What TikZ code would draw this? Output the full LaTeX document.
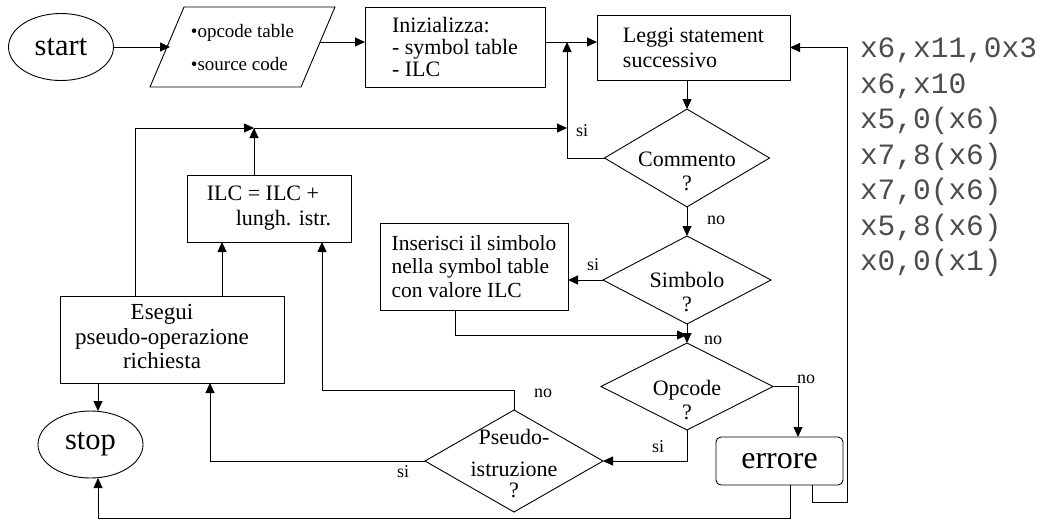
\documentclass[tikz,border=0pt]{standalone}
\usepackage{fontspec}
\setmainfont{Liberation Serif}
\newfontfamily\monofont{Liberation Mono}
\usetikzlibrary{shapes.geometric,arrows.meta}
\newcommand{\fs}[2]{\fontsize{#1}{#2}\selectfont}
\newcommand{\dtext}[2]{\raisebox{#1}[0pt][0pt]{\begin{tabular}[t]{@{}c@{}}#2\end{tabular}}}
\begin{document}
\begin{tikzpicture}[x=1pt,y=-1pt,
  every node/.style={inner sep=0pt, outer sep=0pt},
  box/.style={draw, rectangle, line width=0.9pt, font=\fs{22}{22}},
  term/.style={draw, ellipse, line width=0.9pt, font=\fs{30.5}{32}},
  dia/.style={draw, diamond, line width=0.9pt, font=\fs{22}{24}},
  lbl/.style={font=\fs{18}{18}},
  conn/.style={line width=0.9pt},
  arr/.style={conn, -{Triangle[length=10pt,width=9pt]}},
]
\useasboundingbox (0,0) rectangle (1040,523);

% nodes
\node[term, minimum width=105, minimum height=67] (start) at (61,47) {start};
\node[minimum width=185, minimum height=80, align=left, font=\fs{19}{33}] (in) at (242.5,47) {•opcode table\\•source code};
\draw[line width=0.9pt] (in.south west) -- ([xshift=34pt]in.north west) -- (in.north east)
  -- ([xshift=-34pt]in.south east) -- cycle;
\node[box, minimum width=180, minimum height=80, align=left] (init) at (455,47) {Inizializza:\\- symbol table\\- ILC};
\node[box, minimum width=193, minimum height=65, align=left, font=\fs{22}{25}] (leggi) at (693.5,47.5) {Leggi statement\\successivo};
\node[dia, minimum width=165, minimum height=87] (comm) at (687,158) {\dtext{-8pt}{Commento\\?}};
\node[dia, minimum width=168, minimum height=88] (simb) at (687,280) {\dtext{-7pt}{Simbolo\\?}};
\node[box, minimum width=188, minimum height=87, align=left, font=\fs{21.5}{23.5}] (ins) at (474,266.5) {Inserisci il simbolo\\nella symbol table\\con valore ILC};
\node[dia, minimum width=172, minimum height=87] (opc) at (687,386.5) {\dtext{-8.5pt}{Opcode\\?}};
\node[box, rounded corners=5pt, minimum width=127, minimum height=48, font=\fs{32}{32}] (err) at (779.5,461) {errore};
\node[dia, minimum width=178, minimum height=102, font=\fs{22}{25}] (pseudo) at (514,461) {\dtext{17pt}{Pseudo-\\[7pt]istruzione\\[-4pt]?}};
\node[box, minimum width=164, minimum height=67, align=left, font=\fs{22}{25}] (ilc) at (269,208.5) {ILC = ILC +\\\hspace*{29pt}lungh. istr.};
\node[box, minimum width=224, minimum height=87, font=\fs{23}{24.5}] (eseg) at (172,339.5) {\begin{tabular}{@{}c@{}}Esegui\\pseudo-operazione\\richiesta\end{tabular}\hspace*{20pt}};
\node[term, minimum width=105, minimum height=67] (stop) at (90.5,444.5) {stop};
\node[anchor=north west, font=\monofont\fs{29.5}{35.5}, text=black!70, align=left] (code) at (860,38)
  {x6,x11,0x3\\x6,x10\\x5,0(x6)\\x7,8(x6)\\x7,0(x6)\\x5,8(x6)\\x0,0(x1)};

% junctions and helper coordinates
\coordinate (j1) at (567,42);
\coordinate (j2) at (254,128);
\coordinate (j3) at (567,128);
\coordinate (m) at (687,335);
\coordinate (x98) at (98,0);
\coordinate (x135) at (135,0);
\coordinate (x210) at (210,0);
\coordinate (x222) at (222,0);
\coordinate (x322) at (322,0);
\coordinate (x455) at (455,0);
\coordinate (x790) at (790,0);
\coordinate (x798) at (798,0);
\coordinate (x812) at (812,0);

% connectors
\draw[arr] (start.east) -- ([xshift=20pt]in.west);
\draw[arr] ([shift={(-15pt,5pt)}]in.east) -- ([yshift=5pt]init.west);
\draw[arr] ([yshift=5pt]init.east) -- ([yshift=5pt]init.east -| leggi.west);
\draw[arr] (leggi.south -| comm) -- (comm.north);
\draw[arr] (comm.west) -| (j1);
\draw[arr] (eseg.north -| x135) |- (j2);
\draw[arr] (ilc.north -| j2) -- (j2);
\draw[arr] (j2) -- (j3);
\draw[arr] (eseg.north -| x222) -- (ilc.south -| x222);
\draw[arr] (comm.south) -- (simb.north);
\draw[arr] (simb.west) -- (simb.west -| ins.east);
\draw[arr] (ins.south -| x455) |- (m);
\draw[arr] (simb.south) -- (opc.north);
\draw[arr] (opc.east) -| (err.north -| x798);
\draw[arr] (opc.south) |- (pseudo.east);
\draw[arr] (pseudo.west) -| (eseg.south -| x210);
\draw[arr] (pseudo.north) -- ++(0,-20) -| (ilc.south -| x322);
\draw[arr] (eseg.south -| x98) -- (stop.north -| x98);
\draw[arr] (err.south -| x790) -- ++(0,33) -| (stop.south -| x98);
\draw[arr] (err.south -| x812) -- ++(0,17) -| ([xshift=57pt]leggi.east) -- (leggi.east);

% labels
\node[lbl] (l1) at (582,131) {si};
\node[lbl] (l2) at (716,220) {no};
\node[lbl] (l3) at (593,265) {si};
\node[lbl] (l4) at (713,340) {no};
\node[lbl] (l5) at (806,379) {no};
\node[lbl] (l6) at (658,447) {si};
\node[lbl] (l7) at (543,393) {no};
\node[lbl] (l8) at (403,472) {si};
\end{tikzpicture}
\end{document}
